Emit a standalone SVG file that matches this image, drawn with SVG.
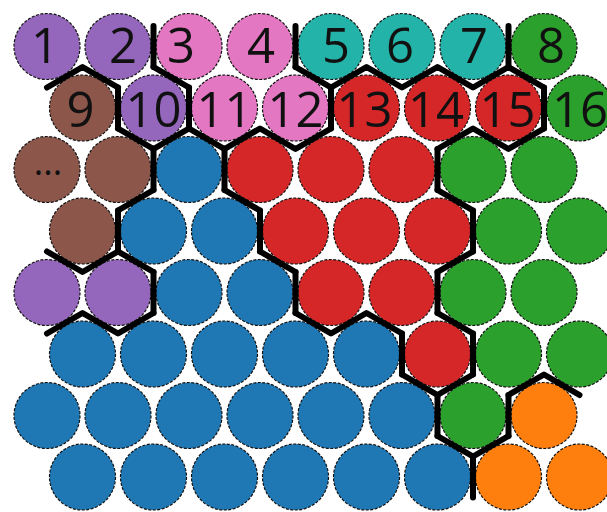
<svg xmlns="http://www.w3.org/2000/svg" width="607" height="512" viewBox="0 0 607 512">
<style>
circle{stroke:#111;stroke-width:1.2;stroke-dasharray:3 1.5}
.P{fill:#9467bd}.K{fill:#e377c2}.T{fill:#24b3a8}.B{fill:#8c564b}.R{fill:#d62728}.G{fill:#2ca02c}.U{fill:#1f77b4}.O{fill:#ff7f0e}
text{font-family:"Open Sans","DejaVu Sans",sans-serif;font-size:49px;fill:#111;text-anchor:middle}
.edges{fill:none;stroke:#000;stroke-width:6;stroke-linecap:round;stroke-linejoin:round}
</style>
<rect width="607" height="512" fill="#fff"/>
<g id="row0">
<g id="n1"><circle class="P" cx="47" cy="46.5" r="33"/><text x="45" y="63">1</text></g>
<g id="n2"><circle class="P" cx="118" cy="46.5" r="33"/><text x="123" y="63">2</text></g>
<g id="n3"><circle class="K" cx="189" cy="46.5" r="33"/><text x="181" y="63">3</text></g>
<g id="n4"><circle class="K" cx="260" cy="46.5" r="33"/><text x="261" y="63">4</text></g>
<g id="n5"><circle class="T" cx="331" cy="46.5" r="33"/><text x="336" y="63">5</text></g>
<g id="n6"><circle class="T" cx="402" cy="46.5" r="33"/><text x="400" y="63">6</text></g>
<g id="n7"><circle class="T" cx="473" cy="46.5" r="33"/><text x="474" y="63">7</text></g>
<g id="n8"><circle class="G" cx="544" cy="46.5" r="33"/><text x="551" y="63">8</text></g>
</g>
<g id="row1">
<g id="n9"><circle class="B" cx="82.5" cy="108" r="33"/><text x="80.5" y="126.5">9</text></g>
<g id="n10"><circle class="P" cx="153.5" cy="108" r="33"/><text x="153.5" y="126.5">10</text></g>
<g id="n11"><circle class="K" cx="224.5" cy="108" r="33"/><text x="224.5" y="126.5">11</text></g>
<g id="n12"><circle class="K" cx="295.5" cy="108" r="33"/><text x="295.5" y="126.5">12</text></g>
<g id="n13"><circle class="R" cx="366.5" cy="108" r="33"/><text x="364.5" y="126.5">13</text></g>
<g id="n14"><circle class="R" cx="437.5" cy="108" r="33"/><text x="436" y="126.5">14</text></g>
<g id="n15"><circle class="R" cx="508.5" cy="108" r="33"/><text x="507.5" y="126.5">15</text></g>
<g id="n16"><circle class="G" cx="579.5" cy="108" r="33"/><text x="580" y="126.5">16</text></g>
</g>
<g id="row2">
<g id="n17"><circle class="B" cx="47" cy="169.5" r="33"/><text x="48" y="175" style="font-size:36px">...</text></g>
<g id="n18"><circle class="B" cx="118" cy="169.5" r="33"/></g>
<g id="n19"><circle class="U" cx="189" cy="169.5" r="33"/></g>
<g id="n20"><circle class="R" cx="260" cy="169.5" r="33"/></g>
<g id="n21"><circle class="R" cx="331" cy="169.5" r="33"/></g>
<g id="n22"><circle class="R" cx="402" cy="169.5" r="33"/></g>
<g id="n23"><circle class="G" cx="473" cy="169.5" r="33"/></g>
<g id="n24"><circle class="G" cx="544" cy="169.5" r="33"/></g>
</g>
<g id="row3">
<g id="n25"><circle class="B" cx="82.5" cy="231" r="33"/></g>
<g id="n26"><circle class="U" cx="153.5" cy="231" r="33"/></g>
<g id="n27"><circle class="U" cx="224.5" cy="231" r="33"/></g>
<g id="n28"><circle class="R" cx="295.5" cy="231" r="33"/></g>
<g id="n29"><circle class="R" cx="366.5" cy="231" r="33"/></g>
<g id="n30"><circle class="R" cx="437.5" cy="231" r="33"/></g>
<g id="n31"><circle class="G" cx="508.5" cy="231" r="33"/></g>
<g id="n32"><circle class="G" cx="579.5" cy="231" r="33"/></g>
</g>
<g id="row4">
<g id="n33"><circle class="P" cx="47" cy="292.5" r="33"/></g>
<g id="n34"><circle class="P" cx="118" cy="292.5" r="33"/></g>
<g id="n35"><circle class="U" cx="189" cy="292.5" r="33"/></g>
<g id="n36"><circle class="U" cx="260" cy="292.5" r="33"/></g>
<g id="n37"><circle class="R" cx="331" cy="292.5" r="33"/></g>
<g id="n38"><circle class="R" cx="402" cy="292.5" r="33"/></g>
<g id="n39"><circle class="G" cx="473" cy="292.5" r="33"/></g>
<g id="n40"><circle class="G" cx="544" cy="292.5" r="33"/></g>
</g>
<g id="row5">
<g id="n41"><circle class="U" cx="82.5" cy="354" r="33"/></g>
<g id="n42"><circle class="U" cx="153.5" cy="354" r="33"/></g>
<g id="n43"><circle class="U" cx="224.5" cy="354" r="33"/></g>
<g id="n44"><circle class="U" cx="295.5" cy="354" r="33"/></g>
<g id="n45"><circle class="U" cx="366.5" cy="354" r="33"/></g>
<g id="n46"><circle class="R" cx="437.5" cy="354" r="33"/></g>
<g id="n47"><circle class="G" cx="508.5" cy="354" r="33"/></g>
<g id="n48"><circle class="G" cx="579.5" cy="354" r="33"/></g>
</g>
<g id="row6">
<g id="n49"><circle class="U" cx="47" cy="415.5" r="33"/></g>
<g id="n50"><circle class="U" cx="118" cy="415.5" r="33"/></g>
<g id="n51"><circle class="U" cx="189" cy="415.5" r="33"/></g>
<g id="n52"><circle class="U" cx="260" cy="415.5" r="33"/></g>
<g id="n53"><circle class="U" cx="331" cy="415.5" r="33"/></g>
<g id="n54"><circle class="U" cx="402" cy="415.5" r="33"/></g>
<g id="n55"><circle class="G" cx="473" cy="415.5" r="33"/></g>
<g id="n56"><circle class="O" cx="544" cy="415.5" r="33"/></g>
</g>
<g id="row7">
<g id="n57"><circle class="U" cx="82.5" cy="477" r="33"/></g>
<g id="n58"><circle class="U" cx="153.5" cy="477" r="33"/></g>
<g id="n59"><circle class="U" cx="224.5" cy="477" r="33"/></g>
<g id="n60"><circle class="U" cx="295.5" cy="477" r="33"/></g>
<g id="n61"><circle class="U" cx="366.5" cy="477" r="33"/></g>
<g id="n62"><circle class="U" cx="437.5" cy="477" r="33"/></g>
<g id="n63"><circle class="O" cx="508.5" cy="477" r="33"/></g>
<g id="n64"><circle class="O" cx="579.5" cy="477" r="33"/></g>
</g>
<g id="connectors" class="edges">
<path d="M153.5 26V67M295.5 26V67M508.5 26V67M118 87.5V128.5M189 87.5V128.5M331 87.5V128.5M544 87.5V128.5M153.5 149V190M224.5 149V190M437.5 149V190M118 210.5V251.5M260 210.5V251.5M473 210.5V251.5M153.5 272V313M295.5 272V313M437.5 272V313M402 333.5V374.5M473 333.5V374.5M437.5 395V436M508.5 395V436M473 456.5V497.5"/>
<path d="M47 87.5L82.5 67L118 87.5M153.5 67L189 87.5M295.5 67L331 87.5L366.5 67L402 87.5L437.5 67L473 87.5L508.5 67L544 87.5"/>
<path d="M118 128.5L153.5 149L189 128.5L224.5 149L260 128.5L295.5 149L331 128.5M437.5 149L473 128.5L508.5 149L544 128.5"/>
<path d="M118 210.5L153.5 190M224.5 190L260 210.5M437.5 190L473 210.5"/>
<path d="M47 251.5L82.5 272L118 251.5L153.5 272M260 251.5L295.5 272M437.5 272L473 251.5"/>
<path d="M47 333.5L82.5 313L118 333.5L153.5 313M295.5 313L331 333.5L366.5 313L402 333.5M437.5 313L473 333.5"/>
<path d="M402 374.5L437.5 395L473 374.5M508.5 395L544 374.5L579.5 395"/>
<path d="M437.5 436L473 456.5L508.5 436"/>
</g>
</svg>
